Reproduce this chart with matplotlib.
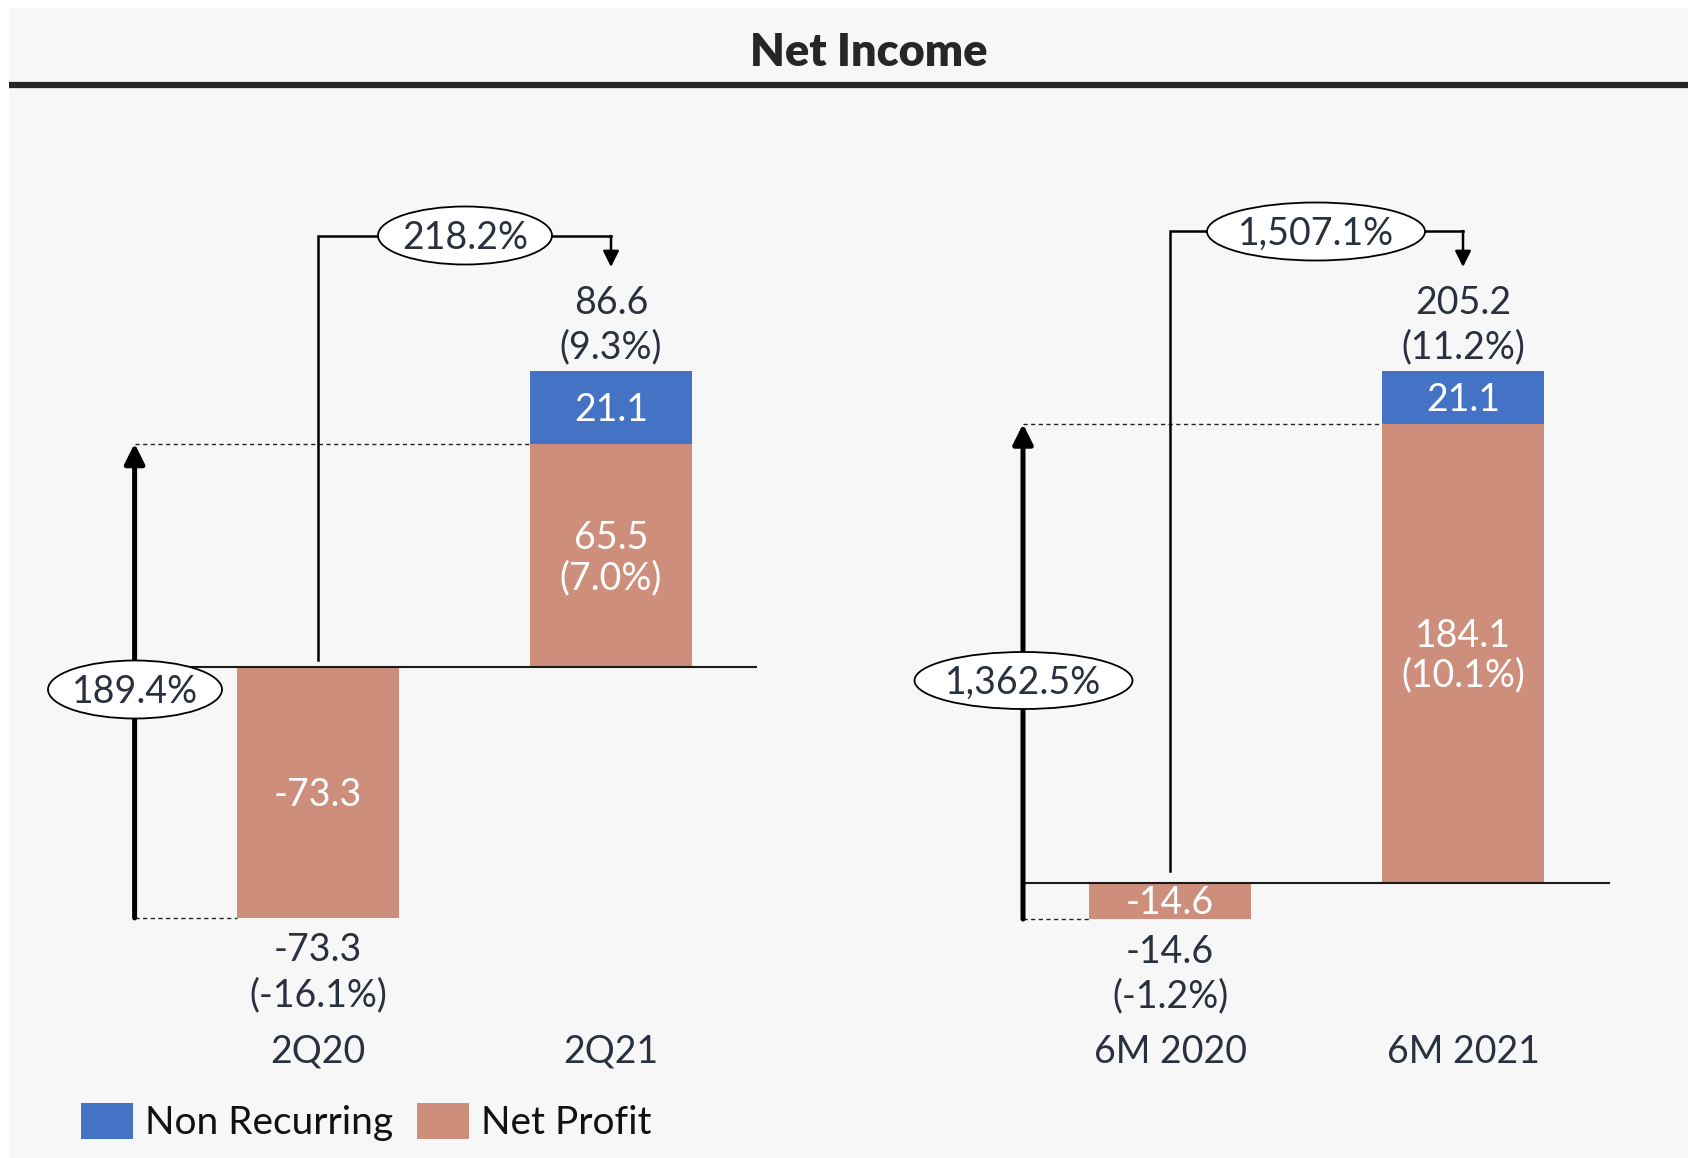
import matplotlib
matplotlib.use("Agg")
import matplotlib.pyplot as plt
from matplotlib.patches import Ellipse, Rectangle, Patch
from matplotlib.lines import Line2D

plt.rcParams['font.family'] = ['Lato', 'DejaVu Sans']

# ---------------- data ----------------
categories_quarter = ['2Q20', '2Q21']
net_profit_quarter = [-73.3, 65.5]
non_recurring_quarter = [0.0, 21.1]
net_margin_quarter = [-16.1, 7.0]
total_margin_quarter = [-16.1, 9.3]
growth_net_quarter = '189.4%'
growth_total_quarter = '218.2%'

categories_half = ['6M 2020', '6M 2021']
net_profit_half = [-14.6, 184.1]
non_recurring_half = [0.0, 21.1]
net_margin_half = [-1.2, 10.1]
total_margin_half = [-1.2, 11.2]
growth_net_half = '1,362.5%'
growth_total_half = '1,507.1%'

legend_labels = ['Non Recurring', 'Net Profit']
title = 'Net Income'

# ---------------- style / layout ----------------
W, H, DPI = 1688, 1158, 100
BLUE = '#4472C4'
SALMON = '#CD8F7B'
TXT = '#2a313e'
BG = '#F7F7F7'
FS = 27
WT = 'normal'
CAP = 0.7165 * FS * DPI / 72.0
PT = 72.0 / DPI
SP = 293.0          # px between category centres
BW = 0.555          # bar width (category units)

fig = plt.figure(figsize=(W / DPI, H / DPI), dpi=DPI)
fig.patch.set_facecolor('white')
fig.patches.append(Rectangle((9 / W, 0), 1 - 9 / W, 1 - 8 / H, transform=fig.transFigure,
                             facecolor=BG, edgecolor='none', zorder=-5))
fig.text(869 / W, 1 - 66.5 / H, title, ha='center', va='baseline', fontsize=32.5,
         fontweight='heavy', color='#262626')
fig.add_artist(Line2D([9 / W, 1], [1 - 84.5 / H] * 2, lw=4.5, color='#262626',
                      solid_capstyle='butt'))


def fmt(v):
    return f'{v:,.1f}'


def draw_panel(x0_px, x1_px, c0_px, zero_px, top_px, arrow_px, conn_start_px, conn_top_px,
               ell_net, ell_tot, cats, npv, nrv, npm, totm, g_net, g_tot):
    ax = fig.add_axes([x0_px / W, 0, (x1_px - x0_px) / W, 1])
    ax.axis('off')
    ax.set_zorder(2)
    totals = [a + b for a, b in zip(npv, nrv)]
    scale = (zero_px - top_px) / max(totals)
    ax.set_xlim(-(c0_px - x0_px) / SP, (x1_px - c0_px) / SP)
    ax.set_ylim(-(H - zero_px) / scale, zero_px / scale)

    def px2x(x_px):
        return (x_px - c0_px) / SP

    def px2y(y_px):
        return (zero_px - y_px) / scale

    xs = list(range(len(cats)))
    ax.bar(xs, npv, width=BW, color=SALMON, zorder=2)
    ax.bar(xs, nrv, width=BW, bottom=[max(v, 0) for v in npv], color=BLUE, zorder=2)

    ax_x = px2x(arrow_px)
    # zero line
    ax.plot([ax_x, xs[-1] + 0.5], [0, 0], color='#1a1a1a', lw=1.5, zorder=3,
            solid_capstyle='butt')
    # dashed guides
    ax.plot([ax_x, xs[1] - BW / 2], [npv[1]] * 2, color='#222222', lw=1.0,
            ls=(0, (3, 2.5)), zorder=3)
    ax.plot([ax_x, xs[0] - BW / 2], [npv[0]] * 2, color='#222222', lw=1.0,
            ls=(0, (3, 2.5)), zorder=3)
    # thick growth arrow
    ax.annotate('', xy=(ax_x, npv[1]), xytext=(ax_x, npv[0]),
                arrowprops=dict(arrowstyle='-|>', lw=3.6, color='black', mutation_scale=30,
                                shrinkA=0, shrinkB=0), zorder=4)
    # connector
    ytop = px2y(conn_top_px)
    ax.plot([xs[0], xs[0], xs[1]], [px2y(conn_start_px), ytop, ytop], color='black',
            lw=1.8, zorder=3, solid_joinstyle='miter')
    ax.annotate('', xy=(xs[1], px2y(267)), xytext=(xs[1], ytop),
                arrowprops=dict(arrowstyle='-|>', lw=1.8, color='black', mutation_scale=24,
                                shrinkA=0, shrinkB=0), zorder=4)

    # ellipses
    for (cx, cy, w, h), s in ((ell_net, g_net), (ell_tot, g_tot)):
        ax.add_patch(Ellipse((px2x(cx), px2y(cy)), w / SP, h / scale, facecolor='white',
                             edgecolor='black', lw=1.3, zorder=6))
        ax.text(px2x(cx), px2y(cy + CAP / 2), s, ha='center', va='baseline', fontsize=FS,
                fontweight=WT, color=TXT, zorder=7)

    def lab(x, y, dy_px, s, color):
        ax.annotate(s, xy=(x, y), xytext=(0, -(dy_px + CAP / 2) * PT),
                    textcoords='offset points', ha='center', va='baseline', fontsize=FS,
                    fontweight=WT, color=color, zorder=8)

    for i in xs:
        if npv[i] < 0:
            lab(i, npv[i] / 2, 0, fmt(npv[i]), 'white')
            lab(i, npv[i], 30, fmt(npv[i]), TXT)
            lab(i, npv[i], 75, f'({npm[i]:.1f}%)', TXT)
        else:
            lab(i, npv[i] / 2, -20, fmt(npv[i]), 'white')
            lab(i, npv[i] / 2, 20, f'({npm[i]:.1f}%)', 'white')
            if nrv[i] > 0:
                lab(i, npv[i] + nrv[i] / 2, 0, fmt(nrv[i]), 'white')
            lab(i, totals[i], -71, fmt(totals[i]), TXT)
            lab(i, totals[i], -27, f'({totm[i]:.1f}%)', TXT)
        ax.text(i, 1 - 1063 / H, cats[i], transform=ax.get_xaxis_transform(), ha='center',
                va='baseline', fontsize=FS, fontweight=WT, color=TXT)
    return ax


draw_panel(0, 844, 318, 667.4, 371.4, 134.6, 660, 236,
           (135, 689.5, 174, 58), (465, 235.5, 174, 58),
           categories_quarter, net_profit_quarter, non_recurring_quarter,
           net_margin_quarter, total_margin_quarter, growth_net_quarter, growth_total_quarter)
draw_panel(844, W, 1170, 882.7, 371.4, 1023, 871, 231,
           (1023.5, 680.5, 218, 57), (1316, 231.5, 218, 58),
           categories_half, net_profit_half, non_recurring_half,
           net_margin_half, total_margin_half, growth_net_half, growth_total_half)

handles = [Patch(facecolor=BLUE), Patch(facecolor=SALMON)]
fig.legend(handles, legend_labels, loc='center left', bbox_to_anchor=(80.7 / W, 1 - 1122 / H),
           ncol=2, frameon=False, borderpad=0, borderaxespad=0,
           handlelength=52 / 38.9, handleheight=41 / 38.9, handletextpad=12 / 38.9,
           columnspacing=24 / 38.9, labelcolor='#111111', prop={'weight': WT, 'size': 28})

fig.savefig('out.png', dpi=DPI, facecolor=fig.get_facecolor())
